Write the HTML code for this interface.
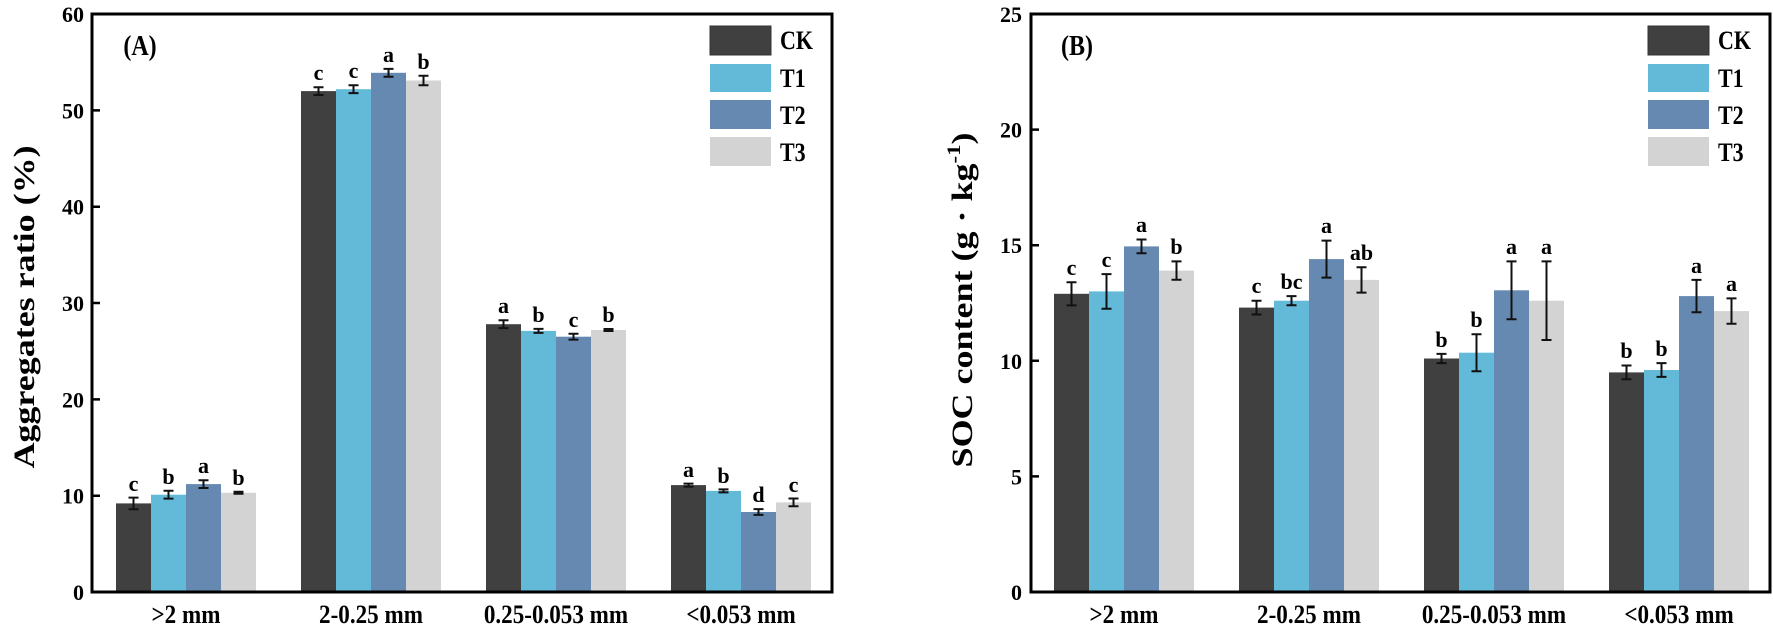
<!DOCTYPE html>
<html><head><meta charset="utf-8"><style>
html,body{margin:0;padding:0;background:#fff;}
svg{display:block;font-family:"Liberation Serif",serif;font-weight:bold;}
</style></head><body>
<svg width="1773" height="632" viewBox="0 0 1773 632" xmlns="http://www.w3.org/2000/svg">
<g font-size="22" text-anchor="middle" fill="#000">
<!-- Panel A bars -->
<rect x="116" y="503.4" width="35" height="88.6" fill="#404040"/>
<rect x="151" y="494.7" width="35" height="97.3" fill="#62b9d8"/>
<rect x="186" y="484.1" width="35" height="107.9" fill="#6589b0"/>
<rect x="221" y="492.8" width="35" height="99.2" fill="#d3d3d3"/>
<rect x="301" y="91.1" width="35" height="500.9" fill="#404040"/>
<rect x="336" y="89.2" width="35" height="502.8" fill="#62b9d8"/>
<rect x="371" y="72.8" width="35" height="519.2" fill="#6589b0"/>
<rect x="406" y="80.5" width="35" height="511.5" fill="#d3d3d3"/>
<rect x="486" y="324.2" width="35" height="267.8" fill="#404040"/>
<rect x="521" y="330.9" width="35" height="261.1" fill="#62b9d8"/>
<rect x="556" y="336.7" width="35" height="255.3" fill="#6589b0"/>
<rect x="591" y="330" width="35" height="262" fill="#d3d3d3"/>
<rect x="671" y="485.1" width="35" height="106.9" fill="#404040"/>
<rect x="706" y="490.9" width="35" height="101.1" fill="#62b9d8"/>
<rect x="741" y="512" width="35" height="80" fill="#6589b0"/>
<rect x="776" y="502.4" width="35" height="89.6" fill="#d3d3d3"/>
<g stroke="#111" stroke-width="2" fill="none">
<path d="M133.5 497.6V509.2M128.5 497.6H138.5M128.5 509.2H138.5"/>
<path d="M168.5 490.8V498.6M163.5 490.8H173.5M163.5 498.6H173.5"/>
<path d="M203.5 480.2V488M198.5 480.2H208.5M198.5 488H208.5"/>
<path d="M238.5 491.8V493.8M233.5 491.8H243.5M233.5 493.8H243.5"/>
<path d="M318.5 87.2V95M313.5 87.2H323.5M313.5 95H323.5"/>
<path d="M353.5 85.3V93.1M348.5 85.3H358.5M348.5 93.1H358.5"/>
<path d="M388.5 68.9V76.7M383.5 68.9H393.5M383.5 76.7H393.5"/>
<path d="M423.5 75.7V85.3M418.5 75.7H428.5M418.5 85.3H428.5"/>
<path d="M503.5 320.3V328.1M498.5 320.3H508.5M498.5 328.1H508.5"/>
<path d="M538.5 328.9V332.9M533.5 328.9H543.5M533.5 332.9H543.5"/>
<path d="M573.5 333.8V339.6M568.5 333.8H578.5M568.5 339.6H578.5"/>
<path d="M608.5 329V331M603.5 329H613.5M603.5 331H613.5"/>
<path d="M688.5 483.6V486.6M683.5 483.6H693.5M683.5 486.6H693.5"/>
<path d="M723.5 489.4V492.4M718.5 489.4H728.5M718.5 492.4H728.5"/>
<path d="M758.5 509.1V514.9M753.5 509.1H763.5M753.5 514.9H763.5"/>
<path d="M793.5 498.5V506.3M788.5 498.5H798.5M788.5 506.3H798.5"/>
</g>
<text x="133.5" y="491">c</text><text x="168.5" y="484">b</text><text x="203.5" y="473">a</text><text x="238.5" y="485">b</text>
<text x="318.5" y="80">c</text><text x="353.5" y="78">c</text><text x="388.5" y="62">a</text><text x="423.5" y="69">b</text>
<text x="503.5" y="313">a</text><text x="538.5" y="322">b</text><text x="573.5" y="327">c</text><text x="608.5" y="322">b</text>
<text x="688.5" y="477">a</text><text x="723.5" y="483">b</text><text x="758.5" y="502">d</text><text x="793.5" y="492">c</text>

<!-- Panel A axes -->
<path d="M92 14H832V592H92Z" fill="none" stroke="#000" stroke-width="3"/>
<path d="M92 495.7H100M92 399.4H100M92 303H100M92 206.7H100M92 110.4H100" stroke="#000" stroke-width="2.5"/>
<g text-anchor="end" font-size="22">
<text x="84" y="600">0</text><text x="84" y="503.7">10</text><text x="84" y="407.4">20</text><text x="84" y="311">30</text><text x="84" y="214.7">40</text><text x="84" y="118.4">50</text><text x="84" y="22">60</text>
</g>
<g font-size="22">
<text transform="translate(186,623) scale(1.05,1.2)">&gt;2 mm</text>
<text transform="translate(371,623) scale(1.05,1.2)">2-0.25 mm</text>
<text transform="translate(556,623) scale(1.05,1.2)">0.25-0.053 mm</text>
<text transform="translate(741,623) scale(1.05,1.2)">&lt;0.053 mm</text>
</g>
<text transform="translate(140,55) scale(1,1.2)" font-size="24">(A)</text>
<text transform="translate(34,307) rotate(-90) scale(1.2,1)" font-size="30">Aggregates ratio (%)</text>
<!-- legend A -->
<rect x="710" y="26" width="61" height="29" fill="#404040" stroke="#333" stroke-width="1"/>
<rect x="710" y="64" width="61" height="28" fill="#62b9d8"/>
<rect x="710" y="100" width="61" height="29" fill="#6589b0"/>
<rect x="710" y="137" width="61" height="29" fill="#d3d3d3"/>
<g text-anchor="start"><text transform="translate(780,49) scale(1,1.2)">CK</text><text transform="translate(780,87) scale(1,1.2)">T1</text><text transform="translate(780,124) scale(1,1.2)">T2</text><text transform="translate(780,161) scale(1,1.2)">T3</text></g>

<!-- Panel B bars -->
<rect x="1054" y="293.8" width="35" height="298.2" fill="#404040"/>
<rect x="1089" y="291.4" width="35" height="300.6" fill="#62b9d8"/>
<rect x="1124" y="246.4" width="35" height="345.6" fill="#6589b0"/>
<rect x="1159" y="270.6" width="35" height="321.4" fill="#d3d3d3"/>
<rect x="1239" y="307.6" width="35" height="284.4" fill="#404040"/>
<rect x="1274" y="300.7" width="35" height="291.3" fill="#62b9d8"/>
<rect x="1309" y="259.1" width="35" height="332.9" fill="#6589b0"/>
<rect x="1344" y="279.9" width="35" height="312.1" fill="#d3d3d3"/>
<rect x="1424" y="358.5" width="35" height="233.5" fill="#404040"/>
<rect x="1459" y="352.7" width="35" height="239.3" fill="#62b9d8"/>
<rect x="1494" y="290.3" width="35" height="301.7" fill="#6589b0"/>
<rect x="1529" y="300.7" width="35" height="291.3" fill="#d3d3d3"/>
<rect x="1609" y="372.4" width="35" height="219.6" fill="#404040"/>
<rect x="1644" y="370" width="35" height="222" fill="#62b9d8"/>
<rect x="1679" y="296.1" width="35" height="295.9" fill="#6589b0"/>
<rect x="1714" y="311.1" width="35" height="280.9" fill="#d3d3d3"/>
<g stroke="#111" stroke-width="2" fill="none">
<path d="M1071.5 282.2V305.4M1066.5 282.2H1076.5M1066.5 305.4H1076.5"/>
<path d="M1106.5 274.1V308.7M1101.5 274.1H1111.5M1101.5 308.7H1111.5"/>
<path d="M1141.5 239.5V253.3M1136.5 239.5H1146.5M1136.5 253.3H1146.5"/>
<path d="M1176.5 261.4V279.8M1171.5 261.4H1181.5M1171.5 279.8H1181.5"/>
<path d="M1256.5 300.7V314.5M1251.5 300.7H1261.5M1251.5 314.5H1261.5"/>
<path d="M1291.5 296.1V305.3M1286.5 296.1H1296.5M1286.5 305.3H1296.5"/>
<path d="M1326.5 240.6V277.6M1321.5 240.6H1331.5M1321.5 277.6H1331.5"/>
<path d="M1361.5 267.2V292.6M1356.5 267.2H1366.5M1356.5 292.6H1366.5"/>
<path d="M1441.5 353.9V363.1M1436.5 353.9H1446.5M1436.5 363.1H1446.5"/>
<path d="M1476.5 334.2V371.2M1471.5 334.2H1481.5M1471.5 371.2H1481.5"/>
<path d="M1511.5 261.4V319.2M1506.5 261.4H1516.5M1506.5 319.2H1516.5"/>
<path d="M1546.5 261.4V340M1541.5 261.4H1551.5M1541.5 340H1551.5"/>
<path d="M1626.5 365.5V379.3M1621.5 365.5H1631.5M1621.5 379.3H1631.5"/>
<path d="M1661.5 363.1V376.9M1656.5 363.1H1666.5M1656.5 376.9H1666.5"/>
<path d="M1696.5 279.9V312.3M1691.5 279.9H1701.5M1691.5 312.3H1701.5"/>
<path d="M1731.5 298.4V323.8M1726.5 298.4H1736.5M1726.5 323.8H1736.5"/>
</g>
<text x="1071.5" y="275">c</text><text x="1106.5" y="267">c</text><text x="1141.5" y="232">a</text><text x="1176.5" y="254">b</text>
<text x="1256.5" y="293">c</text><text x="1291.5" y="289">bc</text><text x="1326.5" y="233">a</text><text x="1361.5" y="260">ab</text>
<text x="1441.5" y="347">b</text><text x="1476.5" y="327">b</text><text x="1511.5" y="254">a</text><text x="1546.5" y="254">a</text>
<text x="1626.5" y="358">b</text><text x="1661.5" y="356">b</text><text x="1696.5" y="273">a</text><text x="1731.5" y="291">a</text>

<!-- Panel B axes -->
<path d="M1031 14H1770V592H1031Z" fill="none" stroke="#000" stroke-width="3"/>
<path d="M1031 476.4H1039M1031 360.8H1039M1031 245.2H1039M1031 129.6H1039" stroke="#000" stroke-width="2.5"/>
<g text-anchor="end" font-size="22">
<text x="1022" y="600">0</text><text x="1022" y="484.4">5</text><text x="1022" y="368.8">10</text><text x="1022" y="253.2">15</text><text x="1022" y="137.6">20</text><text x="1022" y="22">25</text>
</g>
<g font-size="22">
<text transform="translate(1124,623) scale(1.05,1.2)">&gt;2 mm</text>
<text transform="translate(1309,623) scale(1.05,1.2)">2-0.25 mm</text>
<text transform="translate(1494,623) scale(1.05,1.2)">0.25-0.053 mm</text>
<text transform="translate(1679,623) scale(1.05,1.2)">&lt;0.053 mm</text>
</g>
<text transform="translate(1077,55) scale(1,1.2)" font-size="24">(B)</text>
<text transform="translate(972,300) rotate(-90) scale(1.2,1)" font-size="30">SOC content (g · kg<tspan font-size="19" dy="-12">-1</tspan><tspan dy="12">)</tspan></text>
<!-- legend B -->
<rect x="1648" y="26" width="61" height="29" fill="#404040" stroke="#333" stroke-width="1"/>
<rect x="1648" y="64" width="61" height="28" fill="#62b9d8"/>
<rect x="1648" y="100" width="61" height="29" fill="#6589b0"/>
<rect x="1648" y="137" width="61" height="29" fill="#d3d3d3"/>
<g text-anchor="start"><text transform="translate(1718,49) scale(1,1.2)">CK</text><text transform="translate(1718,87) scale(1,1.2)">T1</text><text transform="translate(1718,124) scale(1,1.2)">T2</text><text transform="translate(1718,161) scale(1,1.2)">T3</text></g>
</g>
</svg>
</body></html>
